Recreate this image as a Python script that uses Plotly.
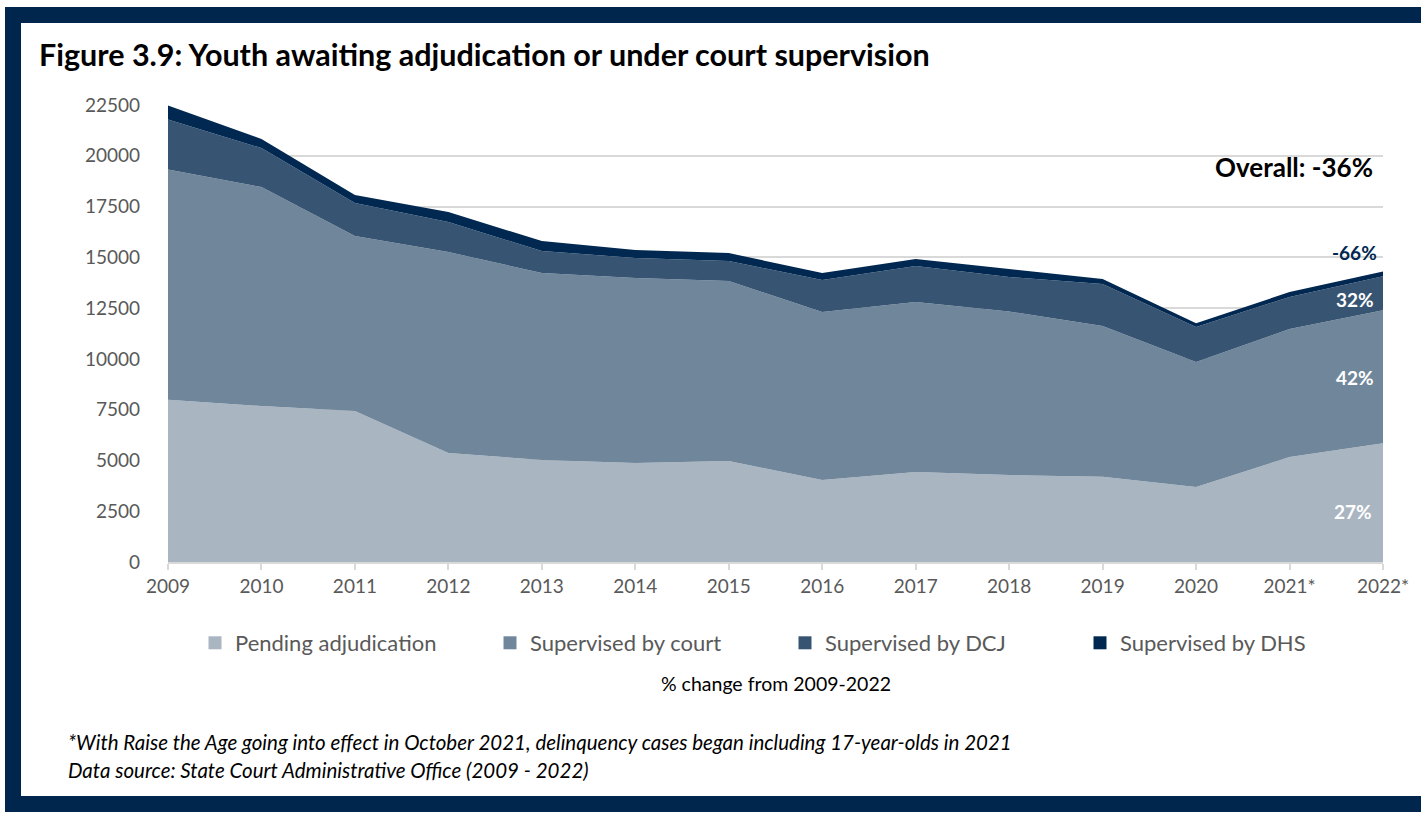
import plotly.graph_objects as go

# Years shown on the category axis
years = [2009, 2010, 2011, 2012, 2013, 2014, 2015, 2016, 2017, 2018, 2019, 2020, 2021, 2022]
year_labels = ["2009", "2010", "2011", "2012", "2013", "2014", "2015", "2016",
               "2017", "2018", "2019", "2020", "2021*", "2022*"]

# Youth counts by status (stacked)
pending = [7990, 7680, 7430, 5370, 5020, 4870, 4970, 4040, 4430, 4280, 4200, 3690, 5170, 5850]
court = [11330, 10780, 8620, 9890, 9210, 9110, 8860, 8270, 8370, 8050, 7420, 6160, 6300, 6550]
dcj = [2460, 1920, 1620, 1480, 1080, 990, 990, 1570, 1770, 1700, 2070, 1720, 1580, 1670]
dhs = [690, 445, 400, 490, 490, 390, 390, 350, 350, 390, 240, 180, 240, 235]

series_names = ["Pending adjudication", "Supervised by court", "Supervised by DCJ", "Supervised by DHS"]
series_values = [pending, court, dcj, dhs]
series_colors = ["#AAB5C2", "#70869B", "#375573", "#002850"]

# Percent change 2009 -> 2022 labels
change_labels = ["27%", "42%", "32%", "-66%"]
overall_label = "Overall: -36%"

FONT = "Lato"
W, H = 1421, 814
L, R, T, B = 168, 38, 105, 252
PW, PH = W - L - R, H - T - B


def px(x):
    return (x - L) / PW


def py(y):
    return (H - B - y) / PH


fig = go.Figure()

for name, vals, color in zip(series_names, series_values, series_colors):
    fig.add_trace(go.Scatter(
        x=years, y=vals, name=name, stackgroup="one", mode="none",
        fillcolor=color, line=dict(width=0), showlegend=False,
        hoverinfo="x+y+name",
    ))
    # square legend swatch
    fig.add_trace(go.Scatter(
        x=[None], y=[None], name=name, mode="markers",
        marker=dict(symbol="square", size=13, color=color), showlegend=True,
    ))

# Navy frame around the figure
fig.add_shape(type="rect", xref="paper", yref="paper",
              x0=px(5), x1=px(W + 20), y0=py(812), y1=py(7),
              fillcolor="#00264E", line=dict(width=0), layer="below")
fig.add_shape(type="rect", xref="paper", yref="paper",
              x0=px(21), x1=px(W + 20), y0=py(796), y1=py(23),
              fillcolor="white", line=dict(width=0), layer="below")

annotations = [
    dict(text="<b>Figure 3.9: Youth awaiting adjudication or under court supervision</b>",
         x=px(37), y=py(54), xanchor="left", yanchor="middle",
         font=dict(size=30.5, color="black", family=FONT)),
    dict(text=f"<b>{overall_label}</b>", x=px(1375), y=py(167), xanchor="right", yanchor="middle",
         font=dict(size=26, color="black", family=FONT)),
    dict(text=f"<b>{change_labels[3]}</b>", x=px(1379), y=py(252), xanchor="right", yanchor="middle",
         font=dict(size=19, color="#002850", family=FONT)),
    dict(text=f"<b>{change_labels[2]}</b>", x=px(1376), y=py(299), xanchor="right", yanchor="middle",
         font=dict(size=19, color="white", family=FONT)),
    dict(text=f"<b>{change_labels[1]}</b>", x=px(1376), y=py(377), xanchor="right", yanchor="middle",
         font=dict(size=19, color="white", family=FONT)),
    dict(text=f"<b>{change_labels[0]}</b>", x=px(1374), y=py(511), xanchor="right", yanchor="middle",
         font=dict(size=19, color="white", family=FONT)),
    dict(text="% change from 2009-2022", x=px(776), y=py(683), xanchor="center", yanchor="middle",
         font=dict(size=19.5, color="black", family=FONT)),
    dict(text="<i>*With Raise the Age going into effect in October 2021, delinquency cases began including 17-year-olds in 2021</i>",
         x=px(66), y=py(742), xanchor="left", yanchor="middle",
         font=dict(size=20.5, color="black", family=FONT)),
    dict(text="<i>Data source: State Court Administrative Office (2009 - 2022)</i>",
         x=px(66), y=py(770), xanchor="left", yanchor="middle",
         font=dict(size=20.5, color="black", family=FONT)),
]
for a in annotations:
    a.update(xref="paper", yref="paper", showarrow=False)

fig.update_layout(
    width=W, height=H,
    margin=dict(l=L, r=R, t=T, b=B),
    paper_bgcolor="white", plot_bgcolor="rgba(0,0,0,0)",
    font=dict(family=FONT, color="#595959"),
    annotations=annotations,
    showlegend=True,
    legend=dict(orientation="h", x=px(195), y=py(643), xanchor="left", yanchor="middle",
                entrywidth=250, entrywidthmode="pixels", traceorder="normal",
                font=dict(size=22, color="#595959", family=FONT),
                bgcolor="rgba(0,0,0,0)", itemclick=False, itemdoubleclick=False),
    hovermode="x unified",
)
fig.update_xaxes(
    range=[2009, 2022], tickvals=years, ticktext=year_labels,
    showgrid=False, showline=True, linecolor="#D9D9D9", linewidth=1.5,
    ticks="outside", ticklen=6, tickcolor="#D9D9D9", tickwidth=1.5,
    tickfont=dict(size=19, color="#595959", family=FONT), zeroline=False,
)
fig.update_yaxes(
    range=[0, 22500], dtick=2500, tickformat="d",
    showgrid=True, gridcolor="#D9D9D9", gridwidth=1.5,
    ticks="", ticklabelstandoff=27, zeroline=False, showline=False,
    tickfont=dict(size=19, color="#595959", family=FONT),
)

fig.write_html("out.html")
